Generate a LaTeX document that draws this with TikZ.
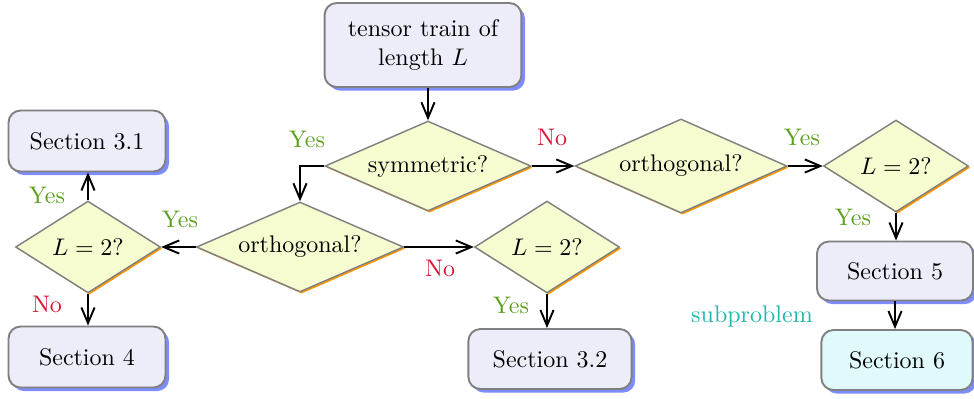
\documentclass[tikz,border=0pt]{standalone}
\usetikzlibrary{shapes.geometric,arrows.meta,shadows}
\definecolor{boxfill}{RGB}{237,236,249}
\definecolor{boxshadow}{RGB}{125,140,255}
\definecolor{dfill}{RGB}{246,252,208}
\definecolor{dshadow}{RGB}{255,150,0}
\definecolor{sixfill}{RGB}{224,250,252}
\definecolor{bordergray}{RGB}{128,128,128}
\definecolor{yescol}{RGB}{90,160,30}
\definecolor{nocol}{RGB}{215,20,50}
\definecolor{subcol}{RGB}{30,185,170}
\begin{document}
\begin{tikzpicture}[x=0.4167pt,y=-0.4167pt,
  box/.style={rectangle, rounded corners=5pt, draw=bordergray, line width=0.8pt, fill=boxfill, align=center, inner sep=0pt,
    drop shadow={fill=boxshadow, opacity=1, shadow xshift=1.5pt, shadow yshift=-1.5pt}},
  dia/.style={diamond, draw=bordergray, line width=0.6pt, fill=dfill, inner sep=0pt, aspect=2,
    drop shadow={fill=dshadow, opacity=1, shadow xshift=0.7pt, shadow yshift=-0.7pt}},
  arr/.style={-{Straight Barb[length=6.5pt,width=5.5pt]}, line width=0.8pt},
  yes/.style={text=yescol}, no/.style={text=nocol}]
\useasboundingbox (0,0) rectangle (974,398);

\node[box, minimum width=82pt, minimum height=35pt] (tt) at (423,45) {tensor train of\\ length $L$};
\node[dia, minimum width=85.8pt, minimum height=37.5pt] (sym) at (428,166) {symmetric?};
\node[dia, minimum width=88.3pt, minimum height=39.2pt] (or) at (681,166) {orthogonal?};
\node[dia, minimum width=60.4pt, minimum height=38.3pt] (lr) at (896,166) {$L=2?$};
\node[box, minimum width=65pt, minimum height=24.6pt] (s5) at (895,271) {Section 5};
\node[box, minimum width=63pt, minimum height=25pt, fill=sixfill] (s6) at (897,360) {Section 6};
\node[dia, minimum width=86.3pt, minimum height=37.5pt] (om) at (300,247) {orthogonal?};
\node[dia, minimum width=60.4pt, minimum height=38.3pt] (ll) at (88,247) {$L=2?$};
\node[dia, minimum width=60.4pt, minimum height=38.3pt] (lm) at (547,247) {$L=2?$};
\node[box, minimum width=65.4pt, minimum height=25.4pt] (s31) at (87,141) {Section 3.1};
\node[box, minimum width=65.4pt, minimum height=25.4pt] (s4) at (87,357) {Section 4};
\node[box, minimum width=68pt, minimum height=25pt] (s32) at (550,359) {Section 3.2};

\draw[arr] (sym.north |- tt.south) -- (sym.north);
\draw[arr] (sym.west) -| (om.north);
\draw[arr] (sym.east) -- (or.west);
\draw[arr] (or.east) -- (lr.west);
\draw[arr] (lr.south) -- (lr.south |- s5.north);
\draw[arr] (s5.south) -- (s5.south |- s6.north);
\draw[arr] (om.west) -- (ll.east);
\draw[arr] (om.east) -- (lm.west);
\draw[arr] (ll.north) -- (ll.north |- s31.south);
\draw[arr] (ll.south) -- (ll.south |- s4.north);
\draw[arr] (lm.south) -- (lm.south |- s32.north);

\node[yes] (l1) at (307,139) {Yes};
\node[no] (l2) at (552,137) {No};
\node[yes] (l3) at (802,137) {Yes};
\node[yes] (l4) at (853,217) {Yes};
\node[text=subcol] (l5) at (752,316) {subproblem};
\node[yes] (l6) at (180,219) {Yes};
\node[no] (l7) at (440,268) {No};
\node[yes] (l8) at (47,195) {Yes};
\node[no] (l9) at (47,304) {No};
\node[yes] (l10) at (511,305) {Yes};
\end{tikzpicture}
\end{document}
